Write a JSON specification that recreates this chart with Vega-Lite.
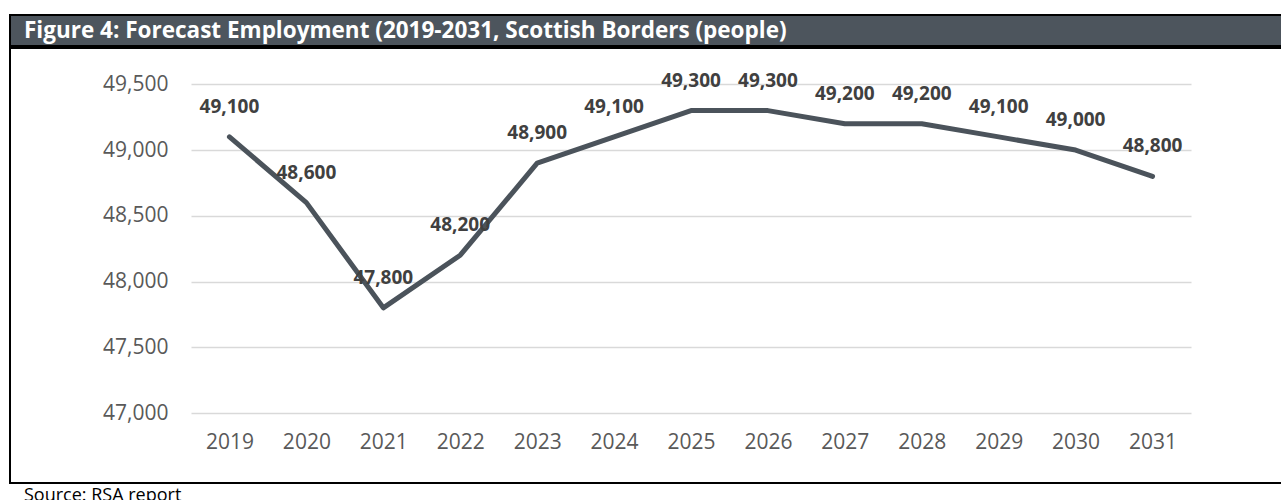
{
  "$schema": "https://vega.github.io/schema/vega-lite/v6.json",
  "padding": {"left": 9, "top": 14, "right": 0, "bottom": 0},
  "spacing": 0,
  "config": {"font": "Open Sans", "view": {"stroke": null}, "concat": {"spacing": 0}},
  "title": {"text": "Source: RSA report", "orient": "bottom", "anchor": "start", "frame": "group", "offset": 3, "dx": 14, "fontSize": 18, "fontWeight": "normal", "color": "#000000", "baseline": "top"},
  "vconcat": [
    {
      "width": 1274,
      "height": 31,
      "view": {"fill": "#4d555d", "stroke": "#000000", "strokeWidth": 2},
      "data": {"values": [{"heading": "Figure 4: Forecast Employment (2019-2031, Scottish Borders (people)"}]},
      "mark": {"type": "text", "align": "left", "baseline": "alphabetic", "fontSize": 22.5, "fontWeight": "bold", "color": "#ffffff", "x": 14, "y": 22.5},
      "encoding": {"text": {"field": "heading", "type": "nominal"}}
    },
    {
      "width": 1274,
      "height": 435,
      "view": {"fill": "#ffffff", "stroke": "#000000", "strokeWidth": 2},
      "data": {"values": [
        {"year": "2019", "employment": 49100},
        {"year": "2020", "employment": 48600},
        {"year": "2021", "employment": 47800},
        {"year": "2022", "employment": 48200},
        {"year": "2023", "employment": 48900},
        {"year": "2024", "employment": 49100},
        {"year": "2025", "employment": 49300},
        {"year": "2026", "employment": 49300},
        {"year": "2027", "employment": 49200},
        {"year": "2028", "employment": 49200},
        {"year": "2029", "employment": 49100},
        {"year": "2030", "employment": 49000},
        {"year": "2031", "employment": 48800}
      ]},
      "encoding": {
        "x": {"field": "year", "type": "ordinal", "scale": {"type": "point", "range": [181, 1181], "padding": 0.5},
          "axis": {"orient": "bottom", "offset": -70, "domain": false, "ticks": false, "tickSize": 0, "labelPadding": 18, "labelFontSize": 21, "labelColor": "#595959", "title": null, "labelAngle": 0, "grid": false}},
        "y": {"field": "employment", "type": "quantitative", "scale": {"domain": [47000, 49500], "range": [365, 36.3], "zero": false, "nice": false},
          "axis": {"orient": "left", "offset": -181, "values": [47000, 47500, 48000, 48500, 49000, 49500], "format": ",.0f", "domain": false, "ticks": false, "tickSize": 0, "labelPadding": 23, "labelFontSize": 21, "labelColor": "#595959", "title": null, "grid": true, "gridColor": "#d9d9d9", "gridWidth": 1.5}}
      },
      "layer": [
        {"mark": {"type": "line", "color": "#4b535b", "strokeWidth": 5, "strokeCap": "round", "strokeJoin": "round"}},
        {"mark": {"type": "text", "fontSize": 19, "fontWeight": "bold", "color": "#404040", "dy": -30, "baseline": "middle"},
          "encoding": {"text": {"field": "employment", "type": "quantitative", "format": ",.0f"}}}
      ]
    }
  ]
}
